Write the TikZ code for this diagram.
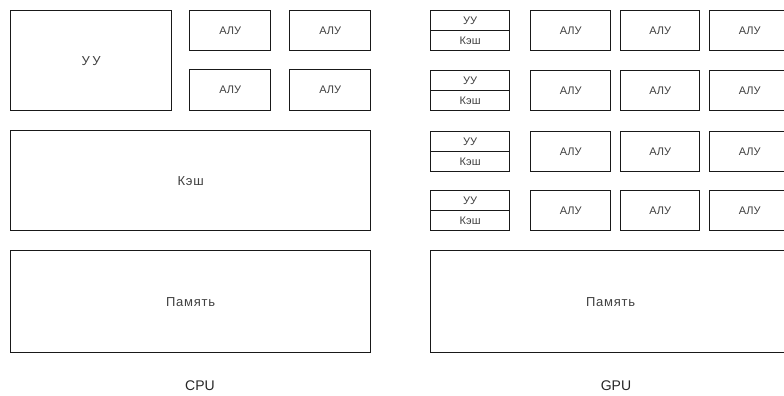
\documentclass[tikz,border=0pt]{standalone}
\usepackage{fontspec}
\setmainfont{Liberation Sans}
\begin{document}
\begin{tikzpicture}[x=1pt,y=-1pt,
  box/.style={draw=black!90, line width=1.3pt, anchor=north west, inner sep=0pt,
    text=black!75, font=\fontsize{11}{12}\selectfont},
  big/.style={font=\fontsize{13}{14}\selectfont\addfontfeature{LetterSpace=#1}},
  lbl/.style={text=black!85, font=\fontsize{14}{15}\selectfont}]
\useasboundingbox (0,0) rectangle (784,396);
\clip (0,0) rectangle (784,396);
% CPU
\node[box, big=20, minimum width=161, minimum height=100] (cu) at (10,10) {УУ};
\node[box, minimum width=81, minimum height=40] (a11) at (189,10) {АЛУ};
\node[box, minimum width=81, minimum height=40] (a12) at (289,10) {АЛУ};
\node[box, minimum width=81, minimum height=41] (a21) at (189,69) {АЛУ};
\node[box, minimum width=81, minimum height=41] (a22) at (289,69) {АЛУ};
\node[box, big=6, minimum width=360, minimum height=100] (cache) at (10,130) {Кэш};
\node[box, big=6, minimum width=360, minimum height=102] (mem) at (10,250) {Память};
\node[lbl] (cpu) at (200,386) {CPU};
% GPU
\foreach \i/\y in {1/10,2/70,3/131,4/190}{
  \node[box, minimum width=79, minimum height=20] (gcu\i) at (430,\y) {УУ};
  \node[box, minimum width=79, minimum height=20] (gc\i) at (430,\y+20) {Кэш};
  \node[box, minimum width=80, minimum height=40] (g\i a) at (530,\y) {АЛУ};
  \node[box, minimum width=79, minimum height=40] (g\i b) at (620,\y) {АЛУ};
  \node[box, minimum width=80, minimum height=40] (g\i c) at (709,\y) {АЛУ};
}
\node[box, big=6, minimum width=360, minimum height=102] (gmem) at (430,250) {Память};
\node[lbl] (gpu) at (616,386) {GPU};
\end{tikzpicture}
\end{document}
